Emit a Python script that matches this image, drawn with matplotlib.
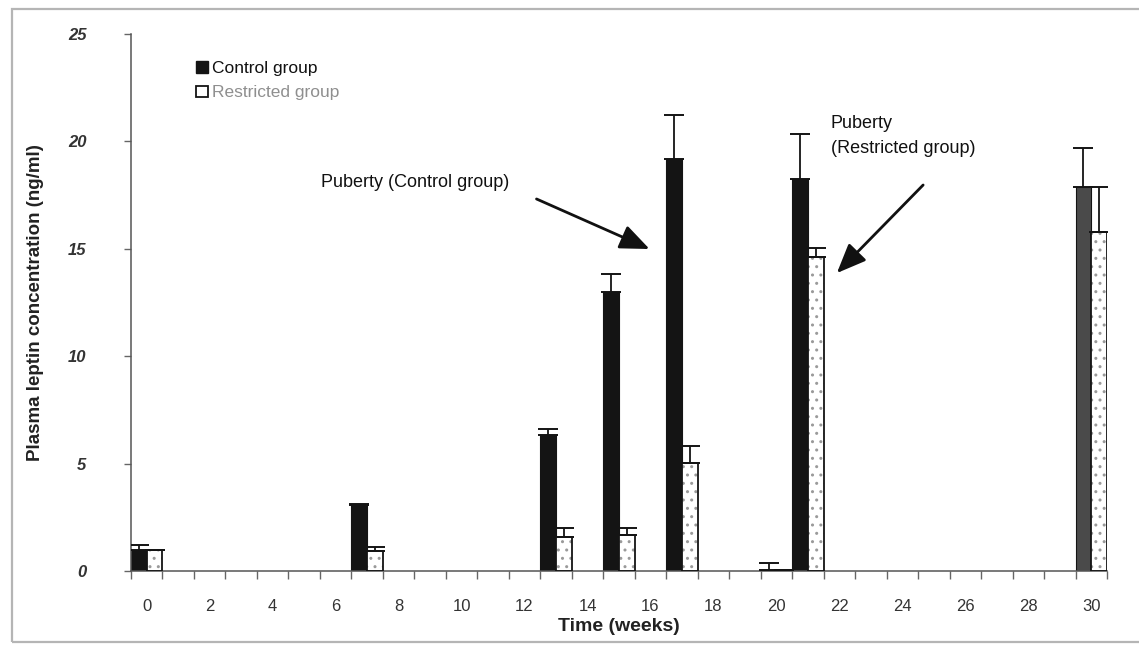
import matplotlib
matplotlib.use('Agg')
import matplotlib.pyplot as plt
from matplotlib.patches import Rectangle, Patch
import numpy as np

# ---- data ----
weeks = [0, 7, 13, 15, 17, 20, 21, 30]
control = [1.0, 3.07, 6.33, 13.0, 19.2, 0.05, 18.25, 17.9]
control_sem = [0.2, 0.05, 0.28, 0.85, 2.05, 0.3, 2.1, 1.8]
restricted = [0.98, 0.95, 1.6, 1.68, 5.04, 0.05, 14.62, 15.8]
restricted_sem = [0.0, 0.15, 0.4, 0.32, 0.78, 0.0, 0.42, 2.1]
xtick_labels = ['0', '2', '4', '6', '8', '10', '12', '14', '16', '18',
                '20', '22', '24', '26', '28', '30']
ytick_values = [0, 5, 10, 15, 20, 25]
series_names = ['Control group', 'Restricted group']

plt.rcParams['font.family'] = ['Liberation Sans', 'DejaVu Sans']
plt.rcParams['hatch.linewidth'] = 1.0

W, H = 1139, 646
fig = plt.figure(figsize=(W / 100, H / 100), dpi=100)
fig.patch.set_facecolor('white')

# scanned page frame
fig.patches.append(Rectangle((12 / W, 1 - 642 / H), 1.2, (642 - 9) / H,
                             transform=fig.transFigure, fill=False,
                             edgecolor='#b5b5b5', lw=1.6, zorder=0))

ax = fig.add_axes([131 / W, 1 - 571 / H, 976 / W, 537 / H])
ax.set_facecolor('white')

x = np.array(weeks, dtype=float)
bw = 0.5
ctrl_colors = ['#141414'] * (len(weeks) - 1) + ['#4a4a4a']

ax.bar(x - bw / 2, control, width=bw, color=ctrl_colors, edgecolor='#141414',
       linewidth=0.8, zorder=2)
ax.bar(x + bw / 2, restricted, width=bw, color='white', edgecolor='#9a9a9a',
       hatch='..', linewidth=0, zorder=2)
ax.bar(x + bw / 2, restricted, width=bw, fill=False, edgecolor='#141414',
       linewidth=1.3, zorder=3)

zeros = [0] * len(weeks)
ax.errorbar(x - bw / 2, control, yerr=[zeros, control_sem], fmt='none',
            ecolor='#141414', elinewidth=1.3, capsize=7, capthick=1.4, zorder=4)
ax.errorbar(x + bw / 2, restricted, yerr=[zeros, restricted_sem], fmt='none',
            ecolor='#141414', elinewidth=1.3, capsize=7, capthick=1.4, zorder=4)

ax.set_xlim(-0.5, 30.5)
ax.set_ylim(0, 25)

for s in ['top', 'right']:
    ax.spines[s].set_visible(False)
for s in ['left', 'bottom']:
    ax.spines[s].set_color('#555555')
    ax.spines[s].set_linewidth(1.1)

xt = [int(t) for t in xtick_labels]
ax.set_xticks(xt)
ax.set_xticklabels(xtick_labels, fontsize=12, color='#333333')
ax.set_xticks(np.arange(-0.5, 31, 1.0), minor=True)
ax.tick_params(axis='x', which='major', length=0, pad=20)
ax.tick_params(axis='x', which='minor', length=6, width=1, color='#666666',
               direction='out')

ax.set_yticks(ytick_values)
ax.set_yticklabels([str(v) for v in ytick_values], fontsize=12,
                   fontweight='bold', fontstyle='italic', color='#333333')
ax.tick_params(axis='y', length=5, width=1, color='#666666', pad=27)

ax.set_xlabel('Time (weeks)', fontsize=14, fontweight='bold', color='#222222')
ax.xaxis.set_label_coords(0.5, -0.104)
ax.xaxis.label.set_va('center')
ax.set_ylabel('Plasma leptin concentration (ng/ml)', fontsize=13.5,
              fontweight='bold', color='#222222')
ax.yaxis.set_label_coords(-0.098, 0.5)
ax.yaxis.label.set_va('center')

# legend
handles = [Patch(facecolor='#141414', edgecolor='#141414'),
           Patch(facecolor='white', edgecolor='#141414', linewidth=1.3)]
leg = ax.legend(handles, series_names, loc='upper left',
                bbox_to_anchor=(0.067, 0.95), frameon=False, fontsize=12.5,
                handlelength=0.65, handleheight=0.65, handletextpad=0.25,
                labelspacing=0.55, borderpad=0, borderaxespad=0)
leg.get_texts()[0].set_color('#111111')
leg.get_texts()[1].set_color('#8f8f8f')

# annotations
ax.text(5.54, 18.1, 'Puberty (Control group)', fontsize=13, color='#111111',
        ha='left', va='center')
ax.annotate('', xy=(15.97, 14.99), xytext=(12.38, 17.32),
            arrowprops=dict(arrowstyle='-|>,head_length=1.2,head_width=0.5',
                            mutation_scale=15, lw=2, color='#111111',
                            shrinkA=0, shrinkB=0))
ax.text(21.73, 20.25, 'Puberty\n(Restricted group)', fontsize=13,
        color='#111111', ha='left', va='center', linespacing=1.55)
ax.annotate('', xy=(21.92, 13.87), xytext=(24.66, 17.97),
            arrowprops=dict(arrowstyle='-|>,head_length=1.2,head_width=0.5',
                            mutation_scale=15, lw=2, color='#111111',
                            shrinkA=0, shrinkB=0))

fig.savefig('out.png', dpi=100, facecolor='white')
